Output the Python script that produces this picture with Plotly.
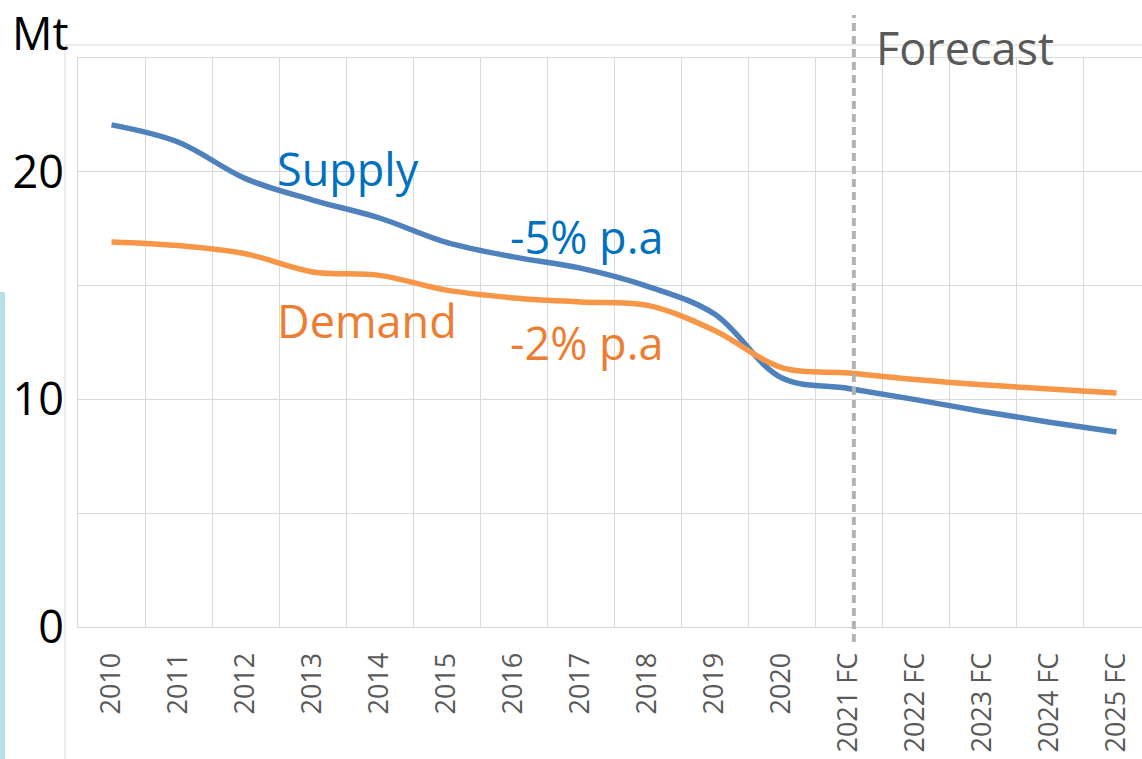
import plotly.graph_objects as go

categories = ["2010", "2011", "2012", "2013", "2014", "2015", "2016", "2017", "2018",
              "2019", "2020", "2021 FC", "2022 FC", "2023 FC", "2024 FC", "2025 FC"]
supply = [22.06, 21.3, 19.7, 18.76, 17.97, 16.9, 16.26, 15.77, 14.97,
          13.75, 10.95, 10.48, 9.99, 9.47, 9.0, 8.57]
demand = [16.92, 16.76, 16.4, 15.6, 15.45, 14.8, 14.46, 14.28, 14.13,
          13.03, 11.4, 11.16, 10.87, 10.64, 10.46, 10.28]
y_tick_vals = [0, 5, 10, 15, 20, 25]
y_tick_text = ["0", "", "10", "", "20", ""]
forecast_split = 11.08  # category position of the forecast divider

W, H = 1142, 759
L, T, B = 78, 58, 627
PW, PH = W - L, B - T


def px(x):
    return (x - L) / PW


def py(y):
    return (B - y) / PH


FONT = "Open Sans"
GRID = "#d9d9d9"

fig = go.Figure()
fig.add_trace(go.Scatter(x=categories, y=supply, mode="lines", name="Supply",
                         line=dict(color="#4f81bd", width=5.5, shape="spline", smoothing=1.0)))
fig.add_trace(go.Scatter(x=categories, y=demand, mode="lines", name="Demand",
                         line=dict(color="#f79646", width=5.5, shape="spline", smoothing=1.0)))

shapes = [
    # outer chart frame (left & top)
    dict(type="line", xref="paper", yref="paper", x0=px(65), x1=px(65), y0=py(45), y1=py(759),
         line=dict(color=GRID, width=1)),
    dict(type="line", xref="paper", yref="paper", x0=px(65), x1=1.0, y0=py(45), y1=py(45),
         line=dict(color=GRID, width=1)),
    # cyan bar at far left
    dict(type="rect", xref="paper", yref="paper", x0=px(0), x1=px(5), y0=py(759), y1=py(292),
         fillcolor="#b9e0e4", line=dict(width=0), layer="below"),
    # forecast divider
    dict(type="line", xref="x", yref="paper", x0=forecast_split, x1=forecast_split,
         y0=py(642), y1=py(15), line=dict(color="#b3b3b3", width=4, dash="8px,5px")),
]

annotations = [
    dict(text="Mt", x=px(10), y=py(0), xanchor="left", yanchor="top",
         font=dict(family=FONT, size=45, color="#000000")),
    dict(text="Forecast", x=px(874), y=py(48), xanchor="left", yanchor="middle",
         font=dict(family=FONT, size=45, color="#595959")),
    dict(text="Supply", x=px(275), y=py(168), xanchor="left", yanchor="middle",
         font=dict(family=FONT, size=45, color="#0070c0")),
    dict(text="-5% p.a", x=px(508), y=py(237), xanchor="left", yanchor="middle",
         font=dict(family=FONT, size=45, color="#0070c0")),
    dict(text="Demand", x=px(275), y=py(320), xanchor="left", yanchor="middle",
         font=dict(family=FONT, size=45, color="#ed7d31")),
    dict(text="-2% p.a", x=px(508), y=py(342), xanchor="left", yanchor="middle",
         font=dict(family=FONT, size=45, color="#ed7d31")),
]
for a in annotations:
    a.update(xref="paper", yref="paper", showarrow=False)

fig.update_layout(
    width=W, height=H,
    margin=dict(l=L, r=0, t=T, b=H - B, pad=0, autoexpand=False),
    paper_bgcolor="white", plot_bgcolor="white",
    showlegend=False,
    shapes=shapes, annotations=annotations,
    xaxis=dict(type="category", range=[-0.5, -0.5 + PW / 67.0], tickson="boundaries",
               automargin=False,
               showgrid=True, gridcolor=GRID, gridwidth=1,
               showline=True, linecolor=GRID, linewidth=1, mirror=True,
               ticks="", tickangle=-90, ticklabelstandoff=14,
               tickfont=dict(family=FONT, size=27, color="#595959"), zeroline=False),
    yaxis=dict(range=[0, 25], tickmode="array", tickvals=y_tick_vals, ticktext=y_tick_text,
               automargin=False,
               showgrid=True, gridcolor=GRID, gridwidth=1,
               showline=True, linecolor=GRID, linewidth=1,
               ticks="", ticklabelstandoff=4, zeroline=False,
               tickfont=dict(family=FONT, size=45, color="#000000")),
)

fig.write_html("out.html", config={"displayModeBar": False},
               post_script="document.body.style.margin='0px';document.body.style.overflow='hidden';")
